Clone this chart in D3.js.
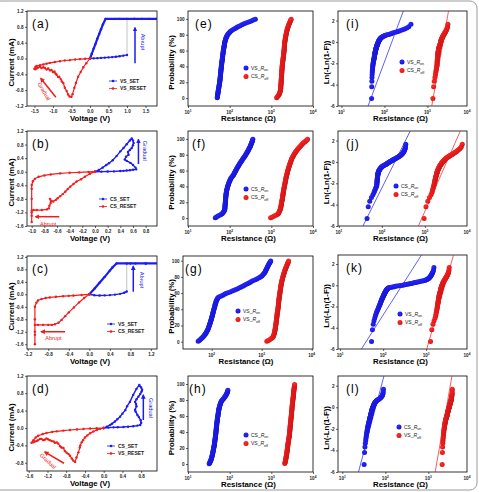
<!DOCTYPE html>
<html>
<head>
<meta charset="utf-8">
<script src="https://cdn.jsdelivr.net/npm/d3@7"></script>
<style>
body { margin:0; background:#fff; }
svg { display:block; }
text { font-family:"Liberation Sans", Arial, sans-serif; }
</style>
</head>
<body>
<div id="chart-area"></div>
<script>
// ---- I-V sweeps: [voltage (V), current (mA)] in sweep order ----
var aSetLow  = [[0,0],[0.1,0.004],[0.2,0.009],[0.3,0.015],[0.4,0.021],[0.5,0.028],[0.6,0.036],[0.7,0.046],[0.8,0.058],[0.9,0.072],[1.0,0.09]];
var aSetHigh = [[1.0,1.0],[1.2,1.0],[1.4,1.0],[1.6,1.0],[1.8,1.0],[2.0,1.0],[1.2,1.0],[0.8,1.0],[0.42,1.0],[0.35,0.86],[0.3,0.74],[0.25,0.62],[0.2,0.5],[0.15,0.37],[0.1,0.25],[0.05,0.12],[0,0]];
var aReset   = [[0,0],[-0.1,-0.12],[-0.18,-0.22],[-0.25,-0.34],[-0.32,-0.46],[-0.38,-0.62],[-0.42,-0.74],[-0.47,-0.9],[-0.5,-0.97],[-0.55,-0.96],[-0.59,-0.91],[-0.63,-0.82],[-0.68,-0.74],[-0.72,-0.62],[-0.76,-0.58],[-0.79,-0.52],[-0.83,-0.46],[-0.86,-0.47],[-0.9,-0.41],[-0.93,-0.38],[-0.96,-0.33],[-1.0,-0.34],[-1.04,-0.29],[-1.08,-0.3],[-1.13,-0.25],[-1.17,-0.28],[-1.22,-0.24],[-1.26,-0.22],[-1.31,-0.24],[-1.35,-0.21],[-1.4,-0.23],[-1.44,-0.25],[-1.48,-0.27],[-1.5,-0.26],[-1.47,-0.21],[-1.44,-0.19],[-1.35,-0.17],[-1.26,-0.15],[-1.17,-0.13],[-1.08,-0.11],[-0.95,-0.09],[-0.81,-0.07],[-0.68,-0.05],[-0.54,-0.04],[-0.4,-0.025],[-0.27,-0.015],[-0.13,-0.007],[0,0]];

var bSet   = [[0,0],[0.1,0.002],[0.2,0.005],[0.3,0.01],[0.4,0.02],[0.45,0.025],[0.5,0.035],[0.55,0.045],[0.6,0.06],[0.65,0.07],[0.64,0.12],[0.6,0.2],[0.56,0.26],[0.5,0.32],[0.47,0.36],[0.49,0.44],[0.53,0.5],[0.52,0.58],[0.55,0.64],[0.58,0.7],[0.6,0.78],[0.61,0.85],[0.6,0.92],[0.58,0.98],[0.55,0.92],[0.5,0.81],[0.45,0.7],[0.4,0.6],[0.34,0.46],[0.28,0.34],[0.22,0.25],[0.18,0.2],[0.12,0.12],[0.06,0.05],[0,0]];
var bReset = [[0,0],[-0.08,-0.06],[-0.16,-0.15],[-0.22,-0.22],[-0.29,-0.29],[-0.34,-0.36],[-0.39,-0.44],[-0.43,-0.51],[-0.47,-0.59],[-0.51,-0.66],[-0.55,-0.72],[-0.59,-0.78],[-0.62,-0.83],[-0.66,-0.88],[-0.69,-0.86],[-0.71,-0.8],[-0.7,-0.92],[-0.72,-1.0],[-0.73,-1.08],[-0.76,-1.11],[-0.84,-1.13],[-0.92,-1.13],[-0.97,-1.13],[-1.0,-1.15],[-1.0,-1.3],[-1.0,-1.48],[-1.0,-1.2],[-1.0,-0.8],[-1.0,-0.5],[-1.0,-0.39],[-0.98,-0.28],[-0.95,-0.21],[-0.89,-0.15],[-0.8,-0.11],[-0.7,-0.08],[-0.55,-0.05],[-0.4,-0.03],[-0.25,-0.02],[-0.1,-0.007],[0,0]];

var cSetLow  = [[0,0],[0.1,-0.03],[0.2,-0.04],[0.3,-0.035],[0.4,-0.025],[0.5,-0.01],[0.6,0.015],[0.68,0.05],[0.73,0.09]];
var cSetHigh = [[0.73,0.99],[0.9,0.99],[1.1,0.99],[1.4,0.99],[1.1,0.99],[0.8,0.99],[0.53,0.99],[0.45,0.86],[0.4,0.76],[0.3,0.56],[0.2,0.37],[0.1,0.18],[0,0]];
var cReset   = [[0,0],[-0.1,-0.12],[-0.2,-0.26],[-0.3,-0.42],[-0.4,-0.58],[-0.47,-0.7],[-0.54,-0.82],[-0.6,-0.91],[-0.67,-0.96],[-0.73,-0.98],[-0.8,-0.98],[-0.9,-0.98],[-1.0,-0.98],[-1.06,-0.98],[-1.06,-1.3],[-1.06,-1.6],[-1.06,-1.2],[-1.06,-0.8],[-1.06,-0.4],[-1.03,-0.27],[-1.0,-0.2],[-0.93,-0.15],[-0.85,-0.12],[-0.77,-0.1],[-0.65,-0.08],[-0.51,-0.06],[-0.4,-0.05],[-0.31,-0.04],[-0.15,-0.02],[0,0]];

var dSet   = [[0,0],[0.1,0.008],[0.21,0.015],[0.3,0.018],[0.42,0.023],[0.52,0.03],[0.63,0.04],[0.72,0.055],[0.78,0.07],[0.8,0.12],[0.79,0.18],[0.75,0.25],[0.72,0.3],[0.68,0.38],[0.67,0.42],[0.7,0.5],[0.69,0.55],[0.67,0.6],[0.7,0.66],[0.74,0.72],[0.78,0.78],[0.81,0.84],[0.82,0.88],[0.8,0.93],[0.76,0.99],[0.7,0.9],[0.63,0.76],[0.56,0.6],[0.5,0.5],[0.46,0.41],[0.4,0.33],[0.35,0.26],[0.29,0.2],[0.24,0.15],[0.18,0.1],[0.14,0.07],[0.07,0.03],[0,0]];
var dReset = [[0,0],[-0.08,-0.02],[-0.15,-0.046],[-0.22,-0.08],[-0.29,-0.12],[-0.35,-0.17],[-0.4,-0.22],[-0.44,-0.28],[-0.47,-0.33],[-0.5,-0.4],[-0.51,-0.45],[-0.54,-0.56],[-0.58,-0.68],[-0.61,-0.78],[-0.65,-0.75],[-0.68,-0.7],[-0.72,-0.64],[-0.75,-0.6],[-0.79,-0.57],[-0.83,-0.53],[-0.86,-0.46],[-0.9,-0.45],[-0.93,-0.42],[-0.97,-0.36],[-1.0,-0.33],[-1.04,-0.34],[-1.07,-0.31],[-1.11,-0.3],[-1.15,-0.28],[-1.19,-0.26],[-1.22,-0.24],[-1.26,-0.27],[-1.29,-0.28],[-1.33,-0.25],[-1.36,-0.25],[-1.4,-0.28],[-1.43,-0.3],[-1.47,-0.31],[-1.5,-0.33],[-1.54,-0.34],[-1.5,-0.28],[-1.45,-0.22],[-1.4,-0.18],[-1.3,-0.14],[-1.22,-0.115],[-1.1,-0.09],[-1.0,-0.077],[-0.86,-0.06],[-0.72,-0.046],[-0.57,-0.034],[-0.43,-0.023],[-0.29,-0.013],[-0.15,-0.006],[0,0]];

// ---- resistance distributions (ohm), sorted, one value per cycle ----
var rOnE  = [50.3,50.6,51.0,51.3,51.6,52.0,52.3,52.6,53.0,53.3,53.7,54.1,54.5,54.9,55.3,55.7,56.2,56.6,57.0,57.5,57.8,58.1,58.3,58.6,58.9,59.1,59.4,59.7,60.0,60.3,60.5,60.8,61.0,61.3,61.6,61.8,62.1,62.4,62.7,63.0,63.3,63.6,64.0,64.4,64.7,65.1,65.4,65.8,66.2,66.5,66.9,67.2,67.6,67.9,68.2,68.6,69.1,69.5,70.0,70.4,70.9,71.4,72.0,72.5,73.0,73.6,74.1,74.6,75.1,75.6,76.3,77.2,78.1,79.0,79.9,81.2,82.8,84.4,86.0,87.7,90.3,94.0,97.7,101,105,112,121,131,141,150,162,178,196,215,236,264,295,330,368,413];
var rOffE = [1340,1390,1440,1490,1530,1560,1583,1606,1629,1652,1666,1671,1677,1682,1687,1692,1697,1702,1707,1712,1717,1722,1728,1734,1739,1744,1749,1754,1759,1764,1768,1773,1778,1784,1789,1794,1800,1806,1811,1817,1824,1833,1841,1850,1858,1868,1879,1891,1902,1913,1924,1935,1945,1956,1966,1977,1986,1995,2004,2013,2022,2030,2037,2045,2052,2059,2066,2072,2079,2086,2096,2111,2126,2141,2156,2172,2189,2206,2223,2240,2260,2281,2302,2323,2344,2371,2402,2434,2465,2496,2534,2579,2624,2668,2713,2763,2820,2877,2934,2991];
var rOnF  = [45.2,48.2,52.2,57.2,62.0,65.6,67.9,70.2,72.4,74.7,76.0,76.3,76.6,76.9,77.2,77.4,77.7,78.0,78.3,78.6,78.9,79.2,79.5,79.8,80.1,80.4,80.7,81.0,81.3,81.6,82.0,82.6,83.2,83.8,84.4,85.2,86.1,87.1,88.1,89.0,90.2,91.6,93.0,94.3,95.7,97.4,99.3,101,103,105,108,112,115,119,123,126,129,132,135,138,141,145,148,152,156,160,164,169,173,178,183,189,194,200,206,212,219,225,232,239,245,252,258,265,272,278,285,291,298,305,311,317,322,328,334,340,345,350,355,360];
var rOffF = [960,1060,1170,1280,1390,1462,1496,1530,1563,1597,1623,1642,1660,1679,1697,1712,1725,1738,1751,1764,1778,1793,1808,1823,1838,1851,1863,1875,1887,1899,1911,1923,1936,1948,1960,1975,1992,2009,2026,2043,2061,2080,2100,2119,2138,2157,2174,2191,2208,2225,2246,2270,2294,2319,2343,2368,2393,2419,2445,2470,2500,2535,2569,2603,2638,2675,2716,2757,2797,2838,2880,2923,2967,3011,3054,3115,3193,3272,3350,3428,3518,3621,3724,3827,3930,4061,4222,4383,4544,4705,4893,5108,5323,5538,5753,6034,6379,6724,7069,7414];
var rOnG  = [53.7,56.2,58.7,61.2,63.7,66.0,68.1,70.3,72.5,74.6,76.5,78.1,79.7,81.4,83.0,84.4,85.5,86.6,87.8,88.9,90.1,91.2,92.3,93.4,94.5,95.6,96.7,97.8,98.9,100,101,102,103,104,105,106,107,108,109,110,111,113,114,115,116,117,118,120,121,122,124,126,129,132,134,142,155,167,180,192,210,234,257,281,304,330,359,388,416,445,478,516,554,593,631,681,742,804,865,926,975,1012,1048,1085,1122,1151,1174,1196,1219,1242,1265,1288,1311,1334,1357,1384,1417,1449,1482,1515];
var rOffG = [1265,1352,1439,1526,1613,1669,1695,1721,1747,1773,1793,1806,1820,1834,1847,1860,1871,1882,1893,1904,1914,1923,1932,1941,1950,1959,1969,1979,1989,1999,2008,2015,2023,2031,2038,2049,2062,2076,2089,2102,2113,2122,2131,2140,2149,2157,2165,2173,2181,2189,2198,2208,2219,2229,2239,2250,2263,2276,2288,2301,2313,2326,2339,2352,2365,2378,2391,2405,2418,2431,2447,2465,2484,2502,2520,2541,2565,2589,2613,2637,2665,2696,2727,2758,2789,2823,2859,2895,2931,2967,3009,3056,3103,3150,3197,3246,3295,3344,3393,3442];
var rOnH  = [32.2,32.9,33.6,34.3,35.0,35.5,36.0,36.4,36.8,37.3,37.7,38.0,38.4,38.8,39.1,39.5,39.8,40.1,40.4,40.7,41.1,41.4,41.8,42.1,42.4,42.7,42.9,43.2,43.4,43.6,43.8,44.1,44.4,44.6,44.9,45.1,45.4,45.6,45.8,46.1,46.3,46.5,46.7,46.9,47.1,47.3,47.5,47.7,47.9,48.1,48.3,48.5,48.7,48.9,49.1,49.3,49.6,49.9,50.1,50.4,50.7,51.0,51.3,51.6,51.9,52.3,52.6,52.9,53.2,53.5,53.9,54.2,54.6,55.0,55.3,55.8,56.4,57.0,57.6,58.2,59.0,59.9,60.8,61.7,62.6,64.3,66.7,69.2,71.6,74.0,76.2,78.3,80.4,82.4,84.5,86.1,87.2,88.4,89.5,90.6];
var rOffH = [2101,2125,2149,2172,2196,2216,2231,2247,2263,2278,2295,2312,2329,2346,2363,2378,2393,2407,2421,2436,2449,2462,2475,2487,2500,2515,2532,2550,2568,2585,2604,2623,2643,2663,2682,2698,2711,2723,2735,2748,2760,2771,2783,2795,2806,2818,2830,2842,2853,2865,2878,2891,2905,2918,2931,2945,2958,2972,2986,2999,3012,3025,3038,3050,3063,3075,3088,3101,3114,3127,3140,3153,3166,3179,3192,3207,3224,3240,3256,3273,3290,3309,3327,3345,3364,3379,3392,3405,3417,3430,3446,3465,3484,3503,3522,3542,3562,3582,3601,3621];
var hOnTopPct = 92.5;   // panel (h): CS_Ron cumulative curve stops at ~92 %

// Weibull fit lines: [resistance, ln(-ln(1-F))] end points
var fitOnI = [[41.6,-6],[275,2.9]],  fitOffI = [[1260,-6],[3090,2.9]];
var fitOnJ = [[36.3,-6],[457,2.9]],  fitOffJ = [[708,-6],[6686,2.9]];
var fitOnK = [[31.2,-6],[794,2.9]],  fitOffK = [[1035,-6],[4365,2.9]];
var fitOnL = [[23.8,-6],[92.9,2.9]], fitOffL = [[1446,-6],[3548,2.9]];

// x ranges (log10 of the left and right ends) of the Weibull panels
var wbRangeI = [0.92, 3.92], wbRangeJ = [0.98, 3.98], wbRangeK = [0.95, 3.95], wbRangeL = [0.9, 3.9];

// tick values
var ticksVa = [-1.5,-1,-0.5,0,0.5,1,1.5];
var ticksVb = [-1,-0.8,-0.6,-0.4,-0.2,0,0.2,0.4,0.6,0.8];
var ticksVc = [-1.2,-0.8,-0.4,0,0.4,0.8,1.2];
var ticksVd = [-1.6,-1.2,-0.8,-0.4,0,0.4,0.8];
var ticksIa = [-1.2,-0.8,-0.4,0,0.4,0.8,1.2];
var ticksIb = [-1.6,-1.2,-0.8,-0.4,0,0.4,0.8,1.2];
var ticksId = [-0.8,-0.4,0,0.4,0.8,1.2];
var ticksP  = [0,20,40,60,80,100];
var ticksW  = [-6,-4,-2,0,2];
var ticksR  = [1e1,1e2,1e3,1e4];
var ticksRw = [1e1,1e2,1e3];
var ticksRg = [1e2,1e3,1e4];

var blue = "#1c1cf2", red = "#f21c1c";
var tickFs = 4.6, titleFs = 7.8;

var svg = d3.select("#chart-area").append("svg")
    .attr("width", 479).attr("height", 492);
var defs = svg.append("defs");

// page border
svg.append("rect").attr("x", -6).attr("y", 1).attr("width", 483).attr("height", 489)
    .attr("rx", 7).attr("fill", "none").attr("stroke", "#9a9a9a").attr("stroke-width", 1);

function ball(id, c) {
    var gr = defs.append("radialGradient").attr("id", id)
        .attr("cx", "38%").attr("cy", "35%").attr("r", "70%");
    gr.append("stop").attr("offset", "0%").attr("stop-color", d3.color(c).brighter(1.2));
    gr.append("stop").attr("offset", "55%").attr("stop-color", c);
    gr.append("stop").attr("offset", "100%").attr("stop-color", d3.color(c).darker(0.5));
}
ball("ballBlue", blue);
ball("ballRed", red);

var arrowCount = 0;
function arrowHead(color) {
    var id = "ah" + (arrowCount++);
    defs.append("marker").attr("id", id).attr("viewBox", "0 0 10 10")
        .attr("refX", 8).attr("refY", 5).attr("markerWidth", 3.2).attr("markerHeight", 3.2)
        .attr("orient", "auto")
        .append("path").attr("d", "M0,0L10,5L0,10z").attr("fill", color);
    return "url(#" + id + ")";
}

function fmt1(d) { return d.toFixed(1); }
function fmt0(d) { return String(d); }

function makePanel(cfg) {
    var p = {};
    p.x = (cfg.log ? d3.scaleLog() : d3.scaleLinear()).domain(cfg.xd).range([cfg.x0, cfg.x1]);
    p.y = d3.scaleLinear().domain(cfg.yd).range([cfg.y1, cfg.y0]);
    var cid = "clip" + cfg.id;
    defs.append("clipPath").attr("id", cid).append("rect")
        .attr("x", cfg.x0).attr("y", cfg.y0)
        .attr("width", cfg.x1 - cfg.x0).attr("height", cfg.y1 - cfg.y0);
    var g = svg.append("g");

    // X axis
    var xAxis = d3.axisBottom(p.x).tickValues(cfg.xt).tickSize(2).tickPadding(1.5)
        .tickFormat(cfg.log ? function() { return ""; } : fmt1);
    var xg = g.append("g").attr("transform", "translate(0," + cfg.y1 + ")").call(xAxis);
    // Y axis
    var yAxis = d3.axisLeft(p.y).tickValues(cfg.yt).tickSize(2).tickPadding(1.5)
        .tickFormat(cfg.yfmt);
    var yg = g.append("g").attr("transform", "translate(" + cfg.x0 + ",0)").call(yAxis);
    [xg, yg].forEach(function(a) {
        a.select(".domain").remove();
        a.selectAll("line").attr("stroke", "#000").attr("stroke-width", 0.6);
        a.selectAll("text").attr("font-size", tickFs).attr("font-weight", "bold")
            .attr("font-family", "Liberation Sans, Arial, sans-serif").attr("fill", "#222");
    });
    if (cfg.log) {
        var labs = cfg.xlab || cfg.xt;
        labs.forEach(function(t) {
            var tx = g.append("text").attr("x", Math.min(p.x(t), cfg.x1)).attr("y", cfg.y1 + 8)
                .attr("text-anchor", "middle").attr("font-size", tickFs)
                .attr("font-weight", "bold").attr("fill", "#222");
            tx.append("tspan").text("10");
            tx.append("tspan").attr("font-size", tickFs * 0.7).attr("dy", -1.8)
                .text(Math.round(Math.log10(t)));
        });
    }
    // frame
    g.append("rect").attr("x", cfg.x0).attr("y", cfg.y0)
        .attr("width", cfg.x1 - cfg.x0).attr("height", cfg.y1 - cfg.y0)
        .attr("fill", "none").attr("stroke", "#000").attr("stroke-width", 0.8);

    // titles
    g.append("text").attr("x", (cfg.x0 + cfg.x1) / 2 - 2).attr("y", cfg.y1 + 15)
        .attr("text-anchor", "middle").attr("font-size", titleFs).attr("font-weight", "bold")
        .text(cfg.xtitle);
    g.append("text")
        .attr("transform", "translate(" + cfg.ytx + "," + ((cfg.y0 + cfg.y1) / 2 + 4) + ") rotate(-90)")
        .attr("text-anchor", "middle").attr("font-size", titleFs).attr("font-weight", "bold")
        .text(cfg.ytitle);
    // panel letter
    g.append("text").attr("x", cfg.x0 + cfg.lx).attr("y", cfg.y0 + 17)
        .attr("font-size", 12).attr("letter-spacing", 1).text(cfg.letter);

    p.plot = g.append("g").attr("clip-path", "url(#" + cid + ")");
    p.g = g;
    p.cfg = cfg;
    return p;
}

function ivLine(p, pts, color, width) {
    var line = d3.line().x(function(d) { return p.x(d[0]); }).y(function(d) { return p.y(d[1]); });
    p.plot.append("path").datum(pts).attr("d", line).attr("fill", "none")
        .attr("stroke", color).attr("stroke-width", width).attr("stroke-linejoin", "round");
}
function ivDots(p, pts, color) {
    p.plot.selectAll(null).data(pts).enter().append("circle")
        .attr("cx", function(d) { return p.x(d[0]); })
        .attr("cy", function(d) { return p.y(d[1]); })
        .attr("r", 1.2).attr("fill", color);
}
function ivLegend(p, x, y, labels) {
    var cols = [blue, red];
    labels.forEach(function(t, i) {
        var yy = y + i * 7.5;
        p.g.append("line").attr("x1", x).attr("x2", x + 8).attr("y1", yy).attr("y2", yy)
            .attr("stroke", cols[i]).attr("stroke-width", 0.8);
        p.g.append("circle").attr("cx", x + 4).attr("cy", yy).attr("r", 1.3).attr("fill", cols[i]);
        p.g.append("text").attr("x", x + 11).attr("y", yy + 1.8).attr("font-size", 5)
            .attr("font-weight", "bold").attr("fill", "#222").text(t);
    });
}
function note(p, v, i, txt, color, rot) {
    p.g.append("text")
        .attr("transform", "translate(" + p.x(v) + "," + p.y(i) + ") rotate(" + rot + ")")
        .attr("text-anchor", "middle").attr("dy", "0.35em")
        .attr("font-size", 5.6).attr("fill", color).text(txt);
}
function arrow(p, v1, i1, v2, i2, color) {
    p.g.append("line").attr("x1", p.x(v1)).attr("y1", p.y(i1))
        .attr("x2", p.x(v2)).attr("y2", p.y(i2))
        .attr("stroke", color).attr("stroke-width", 1.5)
        .attr("marker-end", arrowHead(color));
}

function cdfDots(p, vals, fill, topPct) {
    var n = vals.length;
    p.plot.selectAll(null).data(vals).enter().append("circle")
        .attr("cx", function(d) { return p.x(d); })
        .attr("cy", function(d, i) { return p.y((i + 0.5) / n * topPct); })
        .attr("r", 2.5).attr("fill", fill);
}
function weibullDots(p, vals, fill) {
    var n = vals.length;
    p.plot.selectAll(null).data(vals).enter().append("circle")
        .attr("cx", function(d) { return p.x(d); })
        .attr("cy", function(d, i) { return p.y(Math.log(-Math.log(1 - (i + 0.5) / n))); })
        .attr("r", 2.5).attr("fill", fill);
}
function fitLine(p, pts, color) {
    ivLine(p, pts, color, 0.7);
}
function dotLegend(p, x, y, labels) {
    var fills = ["url(#ballBlue)", "url(#ballRed)"];
    labels.forEach(function(t, i) {
        var yy = y + i * 8.5;
        p.g.append("circle").attr("cx", x).attr("cy", yy).attr("r", 2.5).attr("fill", fills[i]);
        var tx = p.g.append("text").attr("x", x + 5).attr("y", yy + 1.8)
            .attr("font-size", 5).attr("fill", "#222");
        tx.append("tspan").text(t[0] + "_");
        tx.append("tspan").attr("font-style", "italic").text("R");
        tx.append("tspan").attr("font-size", 3.6).attr("dy", 1.3).text(t[1]);
    });
}

// ---------- layout ----------
var colL = [27, 157], colM = [188, 313], colR = [338, 467];
var rowY = [[11, 106], [131, 226], [256, 349], [376, 471]];

function ivCfg(id, row, xd, yd, xt, yt, letter) {
    return { id: id, x0: colL[0], x1: colL[1], y0: rowY[row][0], y1: rowY[row][1],
        xd: xd, yd: yd, xt: xt, yt: yt, yfmt: fmt1, log: false,
        xtitle: "Voltage (V)", ytitle: "Current (mA)", ytx: 14, letter: letter, lx: 5 };
}
function cdfCfg(id, row, x0, xd, yd, xt, letter, lx) {
    return { id: id, x0: x0, x1: colM[1], y0: rowY[row][0], y1: rowY[row][1] + (row === 3 ? 1 : 0),
        xd: xd, yd: yd, xt: xt, yt: ticksP, yfmt: fmt0, log: true,
        xtitle: "Resistance (\u03A9)", ytitle: "Probability (%)", ytx: 174, letter: letter, lx: lx };
}
function wbCfg(id, row, rng, yd, letter) {
    return { id: id, x0: colR[0], x1: colR[1], y0: rowY[row][0] - (row === 2 ? 1 : 0), y1: rowY[row][1] + (row === 3 ? 1 : 0),
        xd: [Math.pow(10, rng[0]), Math.pow(10, rng[1])], yd: yd, xt: ticksRw, xlab: ticksR,
        yt: ticksW, yfmt: fmt0, log: true,
        xtitle: "Resistance (\u03A9)", ytitle: "Ln(-Ln(1-F))", ytx: 329, letter: letter, lx: 8 };
}

// (a)
var pa = makePanel(ivCfg("a", 0, [-1.70, 1.81], [-1.2, 1.2], ticksVa, ticksIa, "(a)"));
ivLine(pa, [aSetLow[aSetLow.length - 1], aSetHigh[0]], "#888", 0.5);
ivLine(pa, aSetLow, blue, 1.4); ivDots(pa, aSetLow, blue);
ivLine(pa, aSetHigh, blue, 2.2); ivDots(pa, aSetHigh, blue);
ivLine(pa, aReset, red, 1.2); ivDots(pa, aReset, red);
ivLegend(pa, 109, 81, ["VS_SET", "VS_RESET"]);
arrow(pa, 1.216, -0.12, 1.216, 0.78, blue);
note(pa, 1.42, 0.42, "Abrupt", blue, 90);
arrow(pa, -0.92, -0.98, -1.33, -0.5, red);
note(pa, -1.24, -0.83, "Gradual", red, 59);

// (b)
var pb = makePanel(ivCfg("b", 1, [-1.074, 0.979], [-1.6, 1.2], ticksVb, ticksIb, "(b)"));
ivLine(pb, bSet, blue, 1.4); ivDots(pb, bSet, blue);
ivLine(pb, bReset, red, 1.2); ivDots(pb, bReset, red);
ivLegend(pb, 99, 199, ["CS_SET", "CS_RESET"]);
arrow(pb, 0.686, 0.227, 0.686, 0.95, blue);
note(pb, 0.79, 0.62, "Gradual", blue, 90);
arrow(pb, -0.564, -1.326, -0.94, -1.326, red);
note(pb, -0.74, -1.53, "Abrupt", red, 0);

// (c)
var pc = makePanel(ivCfg("c", 2, [-1.214, 1.319], [-1.753, 1.228], ticksVc, ticksIb, "(c)"));
ivLine(pc, [cSetLow[cSetLow.length - 1], cSetHigh[0]], "#888", 0.5);
ivLine(pc, cSetLow, blue, 1.4); ivDots(pc, cSetLow, blue);
ivLine(pc, cSetHigh, blue, 2.2); ivDots(pc, cSetHigh, blue);
ivLine(pc, cReset, red, 1.2); ivDots(pc, cReset, red);
ivLegend(pc, 107, 324, ["VS_SET", "CS_RESET"]);
arrow(pc, 0.857, 0.083, 0.857, 0.9, blue);
note(pc, 1.02, 0.46, "Abrupt", blue, 90);
arrow(pc, -0.473, -1.2, -0.94, -1.2, red);
note(pc, -0.70, -1.41, "Abrupt", red, 0);

// (d)
var pd = makePanel(ivCfg("d", 3, [-1.637, 1.138], [-0.989, 1.195], ticksVd, ticksId, "(d)"));
ivLine(pd, dSet, blue, 1.4); ivDots(pd, dSet, blue);
ivLine(pd, dReset, red, 1.2); ivDots(pd, dReset, red);
ivLegend(pd, 107, 446, ["CS_SET", "VS_RESET"]);
arrow(pd, 0.846, 0.184, 0.846, 0.76, blue);
note(pd, 1.0, 0.46, "Gradual", blue, 90);
arrow(pd, -0.848, -0.811, -1.26, -0.55, red);
note(pd, -1.19, -0.76, "Gradual", red, 43);

// (e)-(h) cumulative probability
var pe = makePanel(cdfCfg("e", 0, colM[0], [10, 1e4], [-10, 110], ticksR, "(e)", 7));
cdfDots(pe, rOnE, "url(#ballBlue)", 100); cdfDots(pe, rOffE, "url(#ballRed)", 100);
dotLegend(pe, 246, 68, [["VS", "on"], ["CS", "off"]]);

var pf = makePanel(cdfCfg("f", 1, colM[0], [10, 1e4], [-10, 110], ticksR, "(f)", 4));
cdfDots(pf, rOnF, "url(#ballBlue)", 100); cdfDots(pf, rOffF, "url(#ballRed)", 100);
dotLegend(pf, 246, 189, [["CS", "on"], ["CS", "off"]]);

var pg = makePanel(cdfCfg("g", 2, 183, [26.7, 10617], [-9, 105.8], ticksRg, "(g)", 2));
cdfDots(pg, rOnG, "url(#ballBlue)", 100); cdfDots(pg, rOffG, "url(#ballRed)", 100);
dotLegend(pg, 238, 311, [["VS", "on"], ["VS", "off"]]);

var ph = makePanel(cdfCfg("h", 3, colM[0], [10, 1e4], [-10, 110], ticksR, "(h)", 1));
cdfDots(ph, rOnH, "url(#ballBlue)", hOnTopPct); cdfDots(ph, rOffH, "url(#ballRed)", 100);
dotLegend(ph, 246, 435, [["CS", "on"], ["VS", "off"]]);

// (i)-(l) Weibull plots
var pi = makePanel(wbCfg("i", 0, wbRangeI, [-6, 2.9], "(i)"));
weibullDots(pi, rOnE, "url(#ballBlue)"); weibullDots(pi, rOffE, "url(#ballRed)");
fitLine(pi, fitOnI, blue); fitLine(pi, fitOffI, red);
dotLegend(pi, 402, 62, [["VS", "on"], ["CS", "off"]]);

var pj = makePanel(wbCfg("j", 1, wbRangeJ, [-6, 2.9], "(j)"));
weibullDots(pj, rOnF, "url(#ballBlue)"); weibullDots(pj, rOffF, "url(#ballRed)");
fitLine(pj, fitOnJ, blue); fitLine(pj, fitOffJ, red);
dotLegend(pj, 396, 186, [["CS", "on"], ["CS", "off"]]);

var pk = makePanel(wbCfg("k", 2, wbRangeK, [-6, 2.85], "(k)"));
weibullDots(pk, rOnG, "url(#ballBlue)"); weibullDots(pk, rOffG, "url(#ballRed)");
fitLine(pk, fitOnK, blue); fitLine(pk, fitOffK, red);
dotLegend(pk, 400, 314, [["VS", "on"], ["VS", "off"]]);

var pl = makePanel(wbCfg("l", 3, wbRangeL, [-6, 2.9], "(l)"));
weibullDots(pl, rOnH, "url(#ballBlue)"); weibullDots(pl, rOffH, "url(#ballRed)");
fitLine(pl, fitOnL, blue); fitLine(pl, fitOffL, red);
dotLegend(pl, 399, 427, [["CS", "on"], ["VS", "off"]]);
</script>
</body>
</html>
